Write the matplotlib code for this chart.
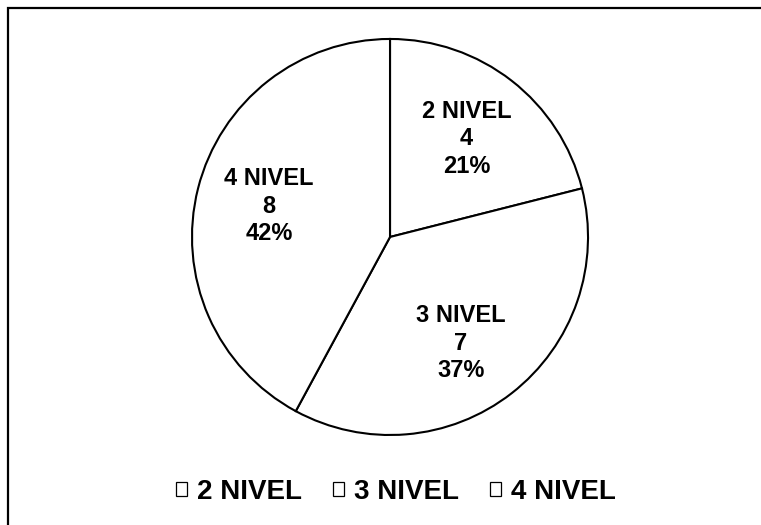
import matplotlib.pyplot as plt
from matplotlib.patches import Patch, Rectangle

labels = ["2 NIVEL", "3 NIVEL", "4 NIVEL"]
counts = [4, 7, 8]

plt.rcParams['font.family'] = ['Liberation Sans', 'DejaVu Sans']

fig = plt.figure(figsize=(7.61, 5.25), dpi=100)

# outer border (right/bottom edges fall outside the image)
fig.patches.append(Rectangle((8 / 761, -0.1), 1.2, 1.1 - 8 / 525,
                             transform=fig.transFigure, fill=False,
                             edgecolor='black', linewidth=1.6, clip_on=False))

ax = fig.add_axes([0.2497, 0.1676, 0.5256, 0.762])
total = sum(counts)

wedges, _, autotexts = ax.pie(counts, startangle=90, counterclock=False,
                              colors=['white'] * 3, autopct=lambda p: "", pctdistance=0.63,
                              wedgeprops=dict(edgecolor='black', linewidth=1.5))
for t, lab, c in zip(autotexts, labels, counts):
    t.set_text(f"{lab}\n{c}\n{round(100 * c / total)}%")
    t.set_fontsize(17)
    t.set_fontweight('bold')
    t.set_linespacing(1.25)
# excel nudges the 3 NIVEL label a bit lower
x, y = autotexts[1].get_position()
autotexts[1].set_position((x - 0.03, y - 0.04))
ax.set_xlim(-1.01, 1.01)
ax.set_ylim(-1.01, 1.01)
ax.set_aspect('equal')

handles = [Patch(facecolor='white', edgecolor='black', linewidth=0.9) for _ in labels]
fig.legend(handles, labels, loc='center', bbox_to_anchor=(396 / 761, 1 - 492 / 525),
           ncol=3, frameon=False, prop=dict(size=20, weight='bold'),
           handlelength=0.4, handleheight=0.4, handletextpad=0.36, columnspacing=1.1)

fig.savefig("out.png", dpi=100)
